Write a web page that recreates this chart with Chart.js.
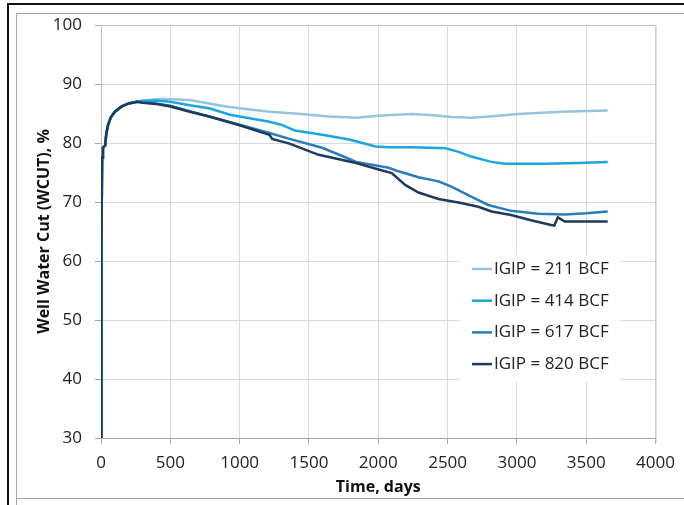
<!DOCTYPE html>
<html>
<head>
<meta charset="utf-8">
<script src="https://cdn.jsdelivr.net/npm/chart.js@4/dist/chart.umd.min.js"></script>
<style>
  html, body { margin: 0; padding: 0; background: #fff; }
  #wrap { width: 684px; height: 505px; position: relative; }
</style>
</head>
<body>
<div id="wrap"><canvas id="myChart" width="684" height="505"></canvas></div>
<script>
// etiquetas de la serie
const seriesLabels = ['IGIP = 211 BCF', 'IGIP = 414 BCF', 'IGIP = 617 BCF', 'IGIP = 820 BCF'];
const seriesColors = ['#96c4dc', '#1ba6e0', '#2a7cbd', '#1f3a5f'];

// tramo inicial compartido por todas las curvas
const earlyDays = [0, 3, 8, 14, 30, 38, 50, 70, 100, 150, 200, 260];
const earlyWcut = [30, 62, 77.5, 79.2, 79.6, 81.5, 83.0, 84.3, 85.3, 86.2, 86.7, 87.0];

// IGIP = 211 BCF
const days211 = [300, 400, 500, 640, 780, 900, 1000, 1215, 1400, 1645, 1840, 2000, 2240, 2400, 2527, 2670, 2800, 3008, 3317, 3655];
const wcut211 = [87.2, 87.4, 87.4, 87.3, 86.7, 86.2, 85.9, 85.3, 85.0, 84.5, 84.3, 84.6, 84.9, 84.7, 84.4, 84.3, 84.5, 84.9, 85.3, 85.5];

// IGIP = 414 BCF
const days414 = [300, 400, 500, 640, 780, 930, 1215, 1300, 1400, 1595, 1790, 1980, 2075, 2240, 2485, 2580, 2670, 2815, 2915, 3200, 3440, 3655];
const wcut414 = [87.1, 87.2, 87.0, 86.4, 85.9, 84.8, 83.6, 83.1, 82.1, 81.4, 80.6, 79.4, 79.3, 79.3, 79.1, 78.5, 77.7, 76.8, 76.5, 76.5, 76.6, 76.8];

// IGIP = 617 BCF
const days617 = [300, 400, 500, 640, 780, 1000, 1215, 1360, 1595, 1740, 1840, 2075, 2146, 2290, 2434, 2527, 2670, 2793, 2958, 3152, 3345, 3500, 3655];
const wcut617 = [86.9, 86.7, 86.3, 85.4, 84.5, 83.1, 81.7, 80.7, 79.2, 77.8, 76.8, 75.8, 75.2, 74.2, 73.5, 72.6, 70.9, 69.5, 68.5, 68.0, 67.9, 68.1, 68.4];

// IGIP = 820 BCF
const days820 = [300, 400, 500, 640, 780, 1000, 1215, 1235, 1360, 1570, 1840, 2003, 2097, 2194, 2290, 2434, 2578, 2722, 2817, 2958, 3102, 3246, 3270, 3295, 3345, 3655];
const wcut820 = [86.8, 86.6, 86.2, 85.3, 84.5, 83.0, 81.4, 80.7, 79.9, 78.0, 76.6, 75.5, 74.9, 72.9, 71.6, 70.5, 69.9, 69.2, 68.4, 67.8, 66.9, 66.1, 66.0, 67.4, 66.7, 66.7];

// ejes
const xTicks = [0, 500, 1000, 1500, 2000, 2500, 3000, 3500, 4000];
const yTicks = [30, 40, 50, 60, 70, 80, 90, 100];

function armarPuntos(dias, valores) {
  const pts = earlyDays.map((d, i) => ({ x: d, y: earlyWcut[i] }));
  dias.forEach((d, i) => pts.push({ x: d, y: valores[i] }));
  return pts;
}

const seriesData = [
  armarPuntos(days211, wcut211),
  armarPuntos(days414, wcut414),
  armarPuntos(days617, wcut617),
  armarPuntos(days820, wcut820)
];

const FONT = "'Open Sans', sans-serif";

// marco exterior y borde del área de trazado
const marcoPlugin = {
  id: 'marco',
  beforeDraw(chart) {
    const ctx = chart.ctx;
    ctx.save();
    ctx.strokeStyle = '#a6a6a6';
    ctx.lineWidth = 1;
    ctx.beginPath();
    ctx.moveTo(16.5, 700);
    ctx.lineTo(16.5, 13.5);
    ctx.lineTo(690, 13.5);
    ctx.moveTo(16.5, 498.5);
    ctx.lineTo(690, 498.5);
    ctx.stroke();
    ctx.strokeStyle = '#111';
    ctx.lineWidth = 2;
    ctx.beginPath();
    ctx.moveTo(8, 510);
    ctx.lineTo(8, 4);
    ctx.lineTo(690, 4);
    ctx.stroke();
    ctx.restore();
  },
  afterDraw(chart) {
    const a = chart.chartArea;
    const ctx = chart.ctx;
    ctx.save();
    ctx.strokeStyle = '#b7c9dc';
    ctx.lineWidth = 1;
    ctx.beginPath();
    ctx.moveTo(a.left, a.top + 0.5);
    ctx.lineTo(a.right + 0.5, a.top + 0.5);
    ctx.lineTo(a.right + 0.5, a.bottom + 5);
    ctx.stroke();
    ctx.restore();
  }
};

// leyenda dentro del área de trazado
const leyendaPlugin = {
  id: 'leyendaInterna',
  afterDatasetsDraw(chart) {
    const ctx = chart.ctx;
    ctx.save();
    ctx.fillStyle = '#fff';
    ctx.fillRect(460, 255, 160, 127);
    ctx.font = '17px ' + FONT;
    ctx.textBaseline = 'middle';
    ctx.textAlign = 'left';
    seriesLabels.forEach((lab, i) => {
      const y = 269 + i * 31.7;
      ctx.strokeStyle = seriesColors[i];
      ctx.lineWidth = 2.5;
      ctx.beginPath();
      ctx.moveTo(472, y);
      ctx.lineTo(492, y);
      ctx.stroke();
      ctx.fillStyle = '#222';
      ctx.fillText(lab, 494, y);
    });
    ctx.restore();
  }
};

const ctx = document.getElementById('myChart').getContext('2d');
new Chart(ctx, {
  type: 'line',
  data: {
    datasets: seriesLabels.map((lab, i) => ({
      label: lab,
      data: seriesData[i],
      borderColor: seriesColors[i],
      backgroundColor: seriesColors[i],
      borderWidth: 2.5,
      pointRadius: 0,
      tension: 0,
      fill: false,
      order: 4 - i
    }))
  },
  options: {
    responsive: false,
    animation: false,
    layout: { padding: { top: 25, right: 26, bottom: 0, left: 0 } },
    plugins: { legend: { display: false }, tooltip: { enabled: false } },
    scales: {
      x: {
        type: 'linear',
        min: 0,
        max: 4000,
        afterBuildTicks: s => { s.ticks = xTicks.map(v => ({ value: v })); },
        afterFit: s => { s.height = 67; },
        grid: { color: '#d9d9d9', tickColor: '#a6a6a6', tickLength: 6 },
        border: { color: '#a6a6a6' },
        ticks: { font: { family: FONT, size: 17 }, color: '#222', padding: 9, maxRotation: 0, callback: v => String(v) },
        title: {
          display: true,
          text: 'Time, days',
          font: { family: FONT, size: 16, weight: 'bold' },
          color: '#111',
          padding: { top: 0, bottom: 8 }
        }
      },
      y: {
        min: 30,
        max: 100,
        afterBuildTicks: s => { s.ticks = yTicks.map(v => ({ value: v })); },
        afterFit: s => { s.width = 101; },
        grid: { color: '#d9d9d9', tickColor: '#a6a6a6', tickLength: 6 },
        border: { color: '#bfbfbf' },
        ticks: { font: { family: FONT, size: 17 }, color: '#222', padding: 13, callback: v => String(v) },
        title: {
          display: true,
          text: 'Well Water Cut (WCUT), %',
          font: { family: FONT, size: 16, weight: 'bold' },
          color: '#111',
          padding: { top: 35, bottom: 0 }
        }
      }
    }
  },
  plugins: [marcoPlugin, leyendaPlugin]
});
</script>
</body>
</html>
